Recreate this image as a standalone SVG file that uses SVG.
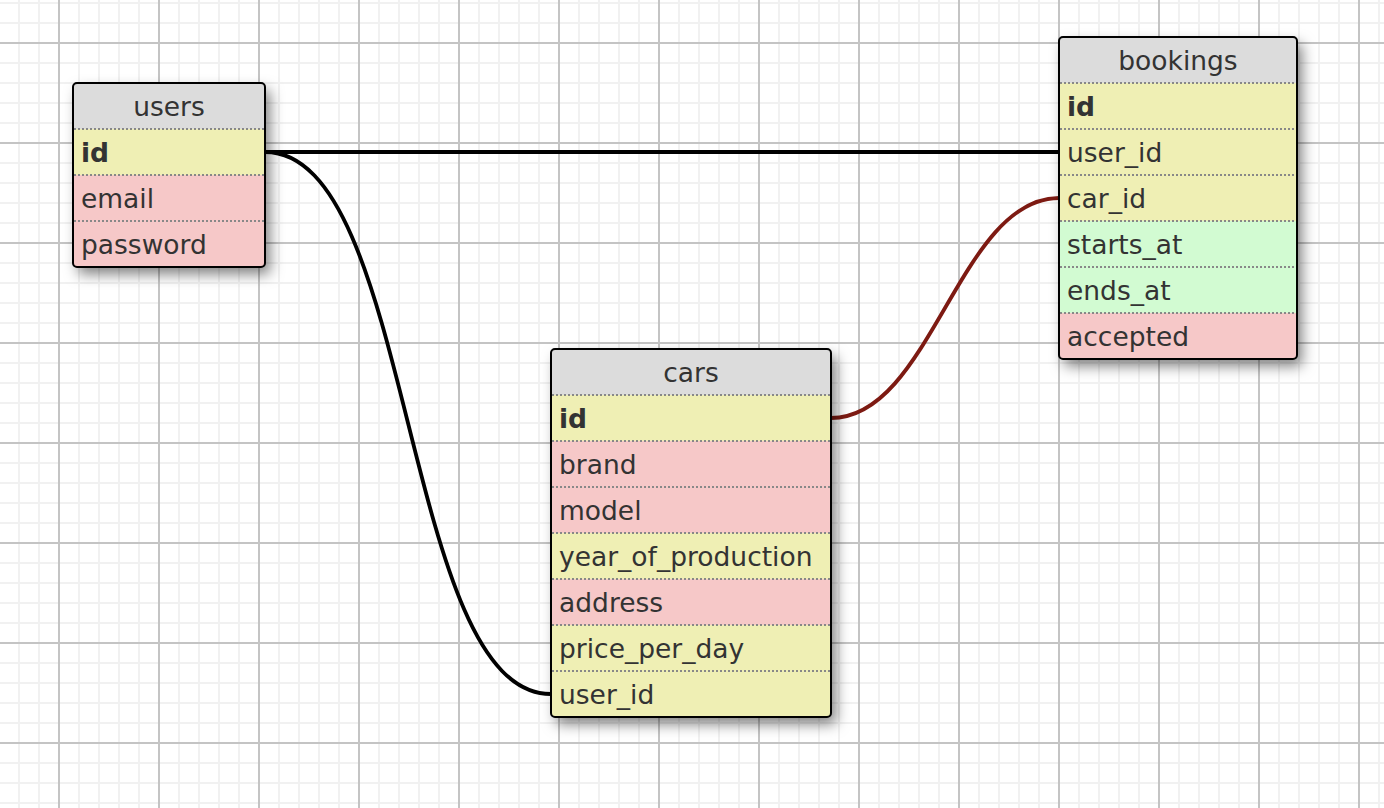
<svg xmlns="http://www.w3.org/2000/svg" width="1384" height="808" viewBox="0 0 1384 808">
<style>
.t{font-family:"DejaVu Sans","Verdana",sans-serif;font-size:26.5px;fill:#333}
.h{text-anchor:middle}
.b{font-weight:bold}
.hd{fill:#dcdcdc}
.y{fill:#efefb4}
.p{fill:#f6c8c8}
.g{fill:#d2fbd2}
.sep{stroke:#888;stroke-width:2;stroke-dasharray:2 2}
.frame{fill:none;stroke:#000;stroke-width:2}
.sh{fill:#fff;filter:url(#shadow)}
.rel{fill:none;stroke-width:3.8}
</style>
<defs>
<pattern id="minor" x="18" y="2" width="20" height="20" patternUnits="userSpaceOnUse">
<rect x="0" y="0" width="2" height="20" fill="#f1f1f1"/>
<rect x="0" y="0" width="20" height="2" fill="#f1f1f1"/>
</pattern>
<pattern id="major" x="58" y="42" width="100" height="100" patternUnits="userSpaceOnUse">
<rect x="0" y="0" width="2" height="100" fill="#c4c4c4"/>
<rect x="0" y="0" width="100" height="2" fill="#c4c4c4"/>
</pattern>
<filter id="shadow" x="-20%" y="-20%" width="150%" height="150%">
<feDropShadow dx="5" dy="7" stdDeviation="7" flood-color="#000" flood-opacity="0.5"/>
</filter>
<clipPath id="cu"><rect x="73" y="83" width="192" height="184" rx="4"/></clipPath>
<clipPath id="cc"><rect x="551" y="349" width="280" height="368" rx="4"/></clipPath>
<clipPath id="cb"><rect x="1059" y="37" width="238" height="322" rx="4"/></clipPath>
</defs>
<rect width="1384" height="808" fill="#fff"/>
<rect width="1384" height="808" fill="url(#minor)"/>
<rect width="1384" height="808" fill="url(#major)"/>

<g id="connectors">
<path class="rel" stroke="#000" d="M265,152 L1059,152"/>
<path class="rel" stroke="#000" d="M265,152 C415,152 401,694 551,694"/>
<path class="rel" stroke="#7d1a12" d="M831,418 C931,418 959,198 1059,198"/>
</g>

<g id="users">
<rect class="sh" x="73" y="83" width="192" height="184" rx="4"/>
<g clip-path="url(#cu)">
<rect class="hd" x="73" y="83" width="192" height="46"/>
<rect class="y" x="73" y="129" width="192" height="46"/>
<rect class="p" x="73" y="175" width="192" height="92"/>
</g>
<line class="sep" x1="74" y1="129" x2="264" y2="129"/>
<line class="sep" x1="74" y1="175" x2="264" y2="175"/>
<line class="sep" x1="74" y1="221" x2="264" y2="221"/>
<rect class="frame" x="73" y="83" width="192" height="184" rx="4"/>
<text class="t h" x="169" y="116">users</text>
<text class="t b" x="81" y="162">id</text>
<text class="t" x="81" y="208">email</text>
<text class="t" x="81" y="254">password</text>
</g>

<g id="cars">
<rect class="sh" x="551" y="349" width="280" height="368" rx="4"/>
<g clip-path="url(#cc)">
<rect class="hd" x="551" y="349" width="280" height="46"/>
<rect class="y" x="551" y="395" width="280" height="46"/>
<rect class="p" x="551" y="441" width="280" height="92"/>
<rect class="y" x="551" y="533" width="280" height="46"/>
<rect class="p" x="551" y="579" width="280" height="46"/>
<rect class="y" x="551" y="625" width="280" height="92"/>
</g>
<line class="sep" x1="552" y1="395" x2="830" y2="395"/>
<line class="sep" x1="552" y1="441" x2="830" y2="441"/>
<line class="sep" x1="552" y1="487" x2="830" y2="487"/>
<line class="sep" x1="552" y1="533" x2="830" y2="533"/>
<line class="sep" x1="552" y1="579" x2="830" y2="579"/>
<line class="sep" x1="552" y1="625" x2="830" y2="625"/>
<line class="sep" x1="552" y1="671" x2="830" y2="671"/>
<rect class="frame" x="551" y="349" width="280" height="368" rx="4"/>
<text class="t h" x="691" y="382">cars</text>
<text class="t b" x="559" y="428">id</text>
<text class="t" x="559" y="474">brand</text>
<text class="t" x="559" y="520">model</text>
<text class="t" x="559" y="566">year_of_production</text>
<text class="t" x="559" y="612">address</text>
<text class="t" x="559" y="658">price_per_day</text>
<text class="t" x="559" y="704">user_id</text>
</g>

<g id="bookings">
<rect class="sh" x="1059" y="37" width="238" height="322" rx="4"/>
<g clip-path="url(#cb)">
<rect class="hd" x="1059" y="37" width="238" height="46"/>
<rect class="y" x="1059" y="83" width="238" height="138"/>
<rect class="g" x="1059" y="221" width="238" height="92"/>
<rect class="p" x="1059" y="313" width="238" height="46"/>
</g>
<line class="sep" x1="1060" y1="83" x2="1296" y2="83"/>
<line class="sep" x1="1060" y1="129" x2="1296" y2="129"/>
<line class="sep" x1="1060" y1="175" x2="1296" y2="175"/>
<line class="sep" x1="1060" y1="221" x2="1296" y2="221"/>
<line class="sep" x1="1060" y1="267" x2="1296" y2="267"/>
<line class="sep" x1="1060" y1="313" x2="1296" y2="313"/>
<rect class="frame" x="1059" y="37" width="238" height="322" rx="4"/>
<text class="t h" x="1178" y="70">bookings</text>
<text class="t b" x="1067" y="116">id</text>
<text class="t" x="1067" y="162">user_id</text>
<text class="t" x="1067" y="208">car_id</text>
<text class="t" x="1067" y="254">starts_at</text>
<text class="t" x="1067" y="300">ends_at</text>
<text class="t" x="1067" y="346">accepted</text>
</g>
</svg>
